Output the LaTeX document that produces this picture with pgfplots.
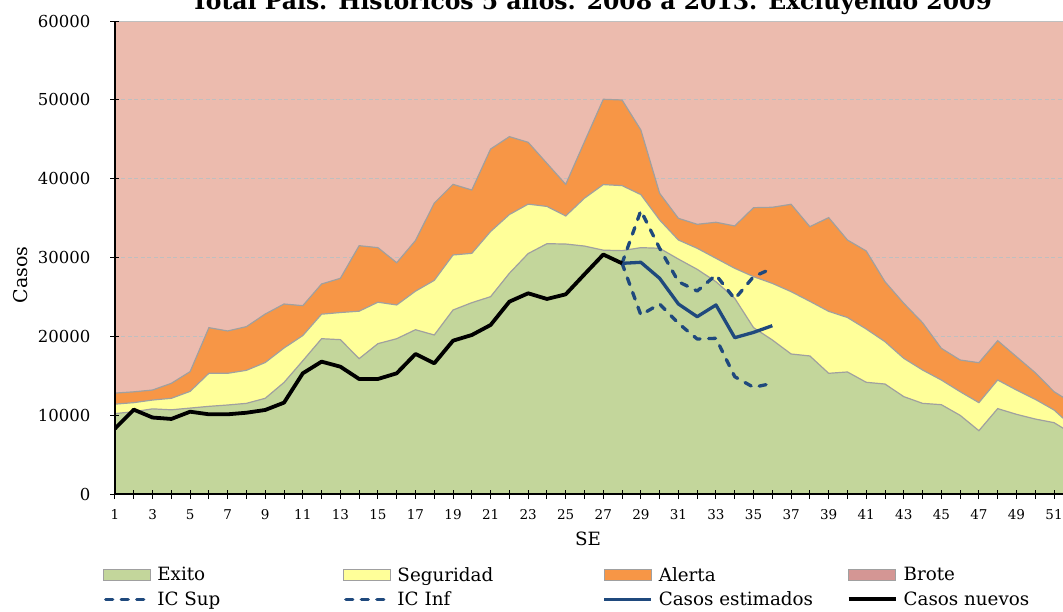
\documentclass[border=0pt]{standalone}
\usepackage{pgfplots}
\usepackage{pgfplotstable}
\pgfplotsset{compat=1.18}
\usepackage{fontspec}
\setmainfont{DejaVu Serif}
\definecolor{exito}{HTML}{C3D69B}
\definecolor{seg}{HTML}{FFFF99}
\definecolor{alerta}{HTML}{F79646}
\definecolor{brote}{HTML}{ECBBAE}
\definecolor{brotesw}{HTML}{D49694}
\definecolor{edge}{HTML}{A0A0A0}
\definecolor{gridc}{HTML}{BFBFBF}
\definecolor{azul}{HTML}{1F497D}

\pgfplotstableread{
w exito seg alerta
1 10200 11400 12800
2 10440 11590 12960
3 10800 11920 13190
4 10680 12140 14040
5 10900 13020 15520
6 11120 15310 21100
7 11290 15310 20680
8 11500 15690 21230
9 12140 16680 22830
10 14150 18520 24100
11 16900 20100 23890
12 19700 22810 26640
13 19580 23020 27360
14 17170 23190 31500
15 19070 24330 31250
16 19700 23980 29340
17 20840 25730 32150
18 20170 27100 36900
19 23340 30320 39280
20 24270 30530 38560
21 25030 33300 43760
22 28000 35450 45330
23 30500 36770 44610
24 31750 36480 41940
25 31710 35270 39280
26 31450 37530 44690
27 30930 39250 50070
28 30870 39120 49980
29 31250 37980 46180
30 31170 34760 38140
31 29800 32220 34970
32 28500 31170 34210
33 26930 29900 34470
34 24820 28630 34000
35 21100 27570 36320
36 19540 26720 36370
37 17760 25670 36750
38 17510 24440 33910
39 15310 23170 35060
40 15480 22390 32220
41 14170 20930 30830
42 13950 19320 26930
43 12350 17210 24190
44 11500 15730 21730
45 11330 14460 18480
46 9980 12980 17000
47 8030 11590 16660
48 10830 14460 19450
49 10110 13190 17420
50 9510 12010 15390
51 9050 10660 12980
52 7600 8500 11500
}\areas

\pgfplotstableread{
w nuevos
1 8300
2 10700
3 9700
4 9520
5 10440
6 10110
7 10110
8 10310
9 10660
10 11590
11 15310
12 16790
13 16150
14 14590
15 14590
16 15310
17 17760
18 16580
19 19450
20 20170
21 21440
22 24400
23 25460
24 24740
25 25330
26 27870
27 30380
28 29260
}\nuevos

\pgfplotstableread{
w est sup inf
28 29260 29260 29260
29 29390 35950 22710
30 27360 31170 24100
31 24100 26930 21650
32 22490 25750 19660
33 23980 27780 19750
34 19830 24740 14880
35 20500 27570 13530
36 21350 28630 14040
}\estim

\begin{document}
\begin{tikzpicture}
\begin{axis}[
  name=ax, at={(0,0)}, anchor=south west,
  scale only axis, width=957.8pt, height=473pt,
  xmin=1, xmax=52, ymin=0, ymax=60000,
  axis on top,
  axis x line*=bottom, axis y line*=left,
  axis line style={black, line width=1.2pt},
  xtick={1,3,...,51}, minor xtick={2,4,...,52},
  ytick={0,10000,...,60000},
  tick align=center, major tick length=9pt, minor tick length=9pt,
  tick style={black, line width=1pt},
  minor tick style={black, line width=1pt},
  scaled y ticks=false,
  yticklabel style={/pgf/number format/fixed, /pgf/number format/1000 sep={},
    /pgf/number format/assume math mode=true,
    font=\fontsize{16.5}{18}\selectfont, anchor=east, inner sep=0pt, xshift=-20pt},
  xticklabel style={/pgf/number format/assume math mode=true,
    font=\fontsize{13.5}{15}\selectfont, anchor=north, inner sep=0pt, yshift=-11pt},
  xlabel={SE},
  xlabel style={at={(axis description cs:0.494,0)}, anchor=center, yshift=-45pt,
    font=\fontsize{18.3}{20}\selectfont},
  ylabel={Casos},
  ylabel style={at={(axis description cs:0,0.463)}, anchor=center, yshift=94pt,
    font=\fontsize{19}{21}\selectfont},
  legend columns=4,
  legend cell align=left,
  legend style={at={(axis description cs:0,0)}, anchor=north west,
    xshift=-15pt, yshift=-71pt, draw=none, fill=none,
    font=\fontsize{18.3}{20}\selectfont, row sep=9pt,
    nodes={inner sep=0pt},
    /tikz/every odd column/.append style={column sep=6pt},
    /tikz/every even column/.append style={column sep=0pt}},
]
% Brote (top layer, fills to the top)
\addplot[fill=brote, draw=gridc, line width=2pt, forget plot] coordinates {(1,60000) (52,60000)} \closedcycle;
% horizontal grid lines
\pgfplotsinvokeforeach{10000,20000,30000,40000,50000}{
  \addplot[gridc, line width=1pt, dash pattern=on 4pt off 2.5pt, forget plot] coordinates {(1,#1) (52,#1)};
}
\addplot[fill=alerta, draw=edge, line width=1.2pt, forget plot] table[x=w, y=alerta] {\areas} \closedcycle;
\addplot[fill=seg, draw=edge, line width=1.2pt, forget plot] table[x=w, y=seg] {\areas} \closedcycle;
\addplot[fill=exito, draw=edge, line width=1.2pt, forget plot] table[x=w, y=exito] {\areas} \closedcycle;
% lines
\addplot[azul, line width=3.3pt, line cap=round, line join=round, dash pattern=on 7pt off 8.5pt, forget plot] table[x=w, y=sup] {\estim};
\addplot[azul, line width=3.3pt, line cap=round, line join=round, dash pattern=on 7pt off 8.5pt, forget plot] table[x=w, y=inf] {\estim};
\addplot[azul, line width=3.3pt, line join=round, forget plot] table[x=w, y=est] {\estim};
\addplot[black, line width=3.8pt, line join=round, forget plot] table[x=w, y=nuevos] {\nuevos};

% legend
\addlegendimage{legend image code/.code={\draw[fill=exito, draw=edge, line width=1pt] (0pt,-5.5pt) rectangle (47pt,5.5pt);}}
\addlegendentry{\makebox[186pt][l]{Exito}}
\addlegendimage{legend image code/.code={\draw[fill=seg, draw=edge, line width=1pt] (0pt,-5.5pt) rectangle (47pt,5.5pt);}}
\addlegendentry{\makebox[205pt][l]{Seguridad}}
\addlegendimage{legend image code/.code={\draw[fill=alerta, draw=edge, line width=1pt] (0pt,-5.5pt) rectangle (47pt,5.5pt);}}
\addlegendentry{\makebox[188pt][l]{Alerta}}
\addlegendimage{legend image code/.code={\draw[fill=brotesw, draw=edge, line width=1pt] (0pt,-5.5pt) rectangle (47pt,5.5pt);}}
\addlegendentry{\makebox[150pt][l]{Brote}}
\addlegendimage{legend image code/.code={\draw[azul, line width=3.3pt, line cap=round, dash pattern=on 7pt off 8.5pt] (2pt,0pt) -- (46pt,0pt);}}
\addlegendentry{IC Sup}
\addlegendimage{legend image code/.code={\draw[azul, line width=3.3pt, line cap=round, dash pattern=on 7pt off 8.5pt] (2pt,0pt) -- (46pt,0pt);}}
\addlegendentry{IC Inf}
\addlegendimage{legend image code/.code={\draw[azul, line width=3.3pt] (0pt,0pt) -- (47pt,0pt);}}
\addlegendentry{Casos estimados}
\addlegendimage{legend image code/.code={\draw[black, line width=3.8pt] (0pt,0pt) -- (47pt,0pt);}}
\addlegendentry{Casos nuevos}
\end{axis}
\node[anchor=base, font=\bfseries\fontsize{23.5}{26}\selectfont] at ([shift={(476.5pt,484pt)}]ax.south west) {Total País. Históricos 5 años. 2008 a 2013. Excluyendo 2009};
\pgfresetboundingbox
\useasboundingbox ([shift={(-115pt,-117pt)}]ax.south west) rectangle ([shift={(948pt,494pt)}]ax.south west);
\end{tikzpicture}
\end{document}
